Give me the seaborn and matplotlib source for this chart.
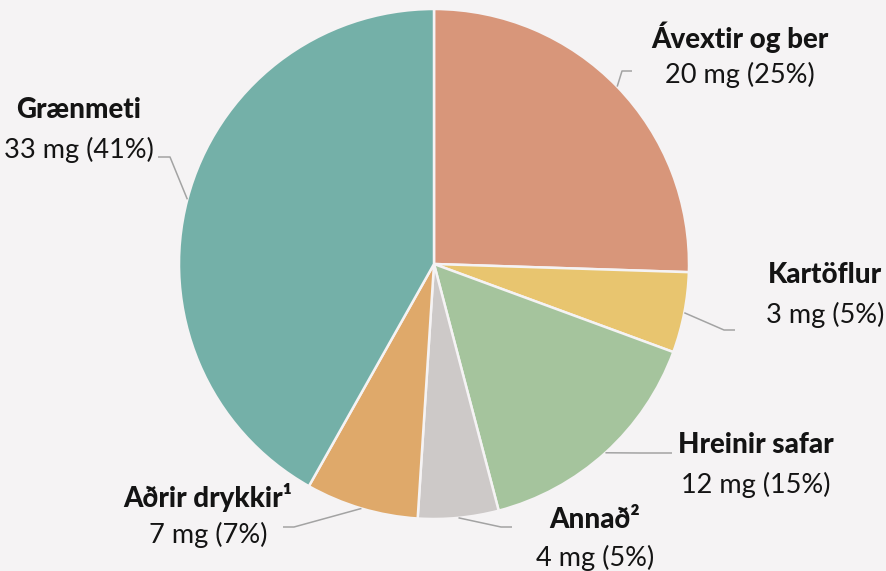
import numpy as np
import matplotlib
matplotlib.use("Agg")
import matplotlib.pyplot as plt
import seaborn as sns

# Daily intake by source
categories = ["Ávextir og ber", "Kartöflur", "Hreinir safar", "Annað²", "Aðrir drykkir¹", "Grænmeti"]
mg_values = [20, 3, 12, 4, 7, 33]
pct_values = [25, 5, 15, 5, 7, 41]
colors = ["#D8967A", "#E8C56F", "#A5C49D", "#CDC9C8", "#DFA96A", "#74B0A8"]

BG = "#F5F3F4"
sns.set_theme(style="white", rc={"figure.facecolor": BG, "axes.facecolor": BG})
plt.rcParams["font.family"] = ["Lato", "DejaVu Sans"]

W, H = 887, 571
fig = plt.figure(figsize=(W / 100, H / 100), dpi=100)
ax = fig.add_axes([0, 0, 1, 1])

# pie geometry in pixel units (y measured upward)
cx, cy, R = 434, H - 264, 255
palette = sns.color_palette(colors)
wedges, _ = ax.pie(pct_values, colors=palette, startangle=90, counterclock=False,
                   center=(cx, cy), radius=R,
                   wedgeprops=dict(edgecolor=BG, linewidth=1.8))

ax.set_xlim(0, W)
ax.set_ylim(0, H)
ax.set_aspect("auto")
ax.axis("off")

# label layout: (text x, title y, value y, elbow point, line end) in pixels from top
layout = [
    (740, 37, 75, (622, 71), (632, 71)),
    (825, 275, 315, (724, 330), (735, 330)),
    (756, 445, 485, (640, 453), (672, 453)),
    (595, 520, 558, (501, 527), (512, 527)),
    (208, 497, 535, (294, 527), (283, 527)),
    (79, 110, 150, (170, 157), (158, 157)),
]

fracs = np.array(pct_values, dtype=float) / sum(pct_values)
start = 0.0
for name, mg, pct, frac, (tx, ty1, ty2, elbow, end) in zip(
        categories, mg_values, pct_values, fracs, layout):
    mid = np.deg2rad((start + frac / 2) * 360)
    start += frac
    px = cx + R * np.sin(mid)
    py = cy + R * np.cos(mid)
    ax.plot([px, elbow[0], end[0]], [py, H - elbow[1], H - end[1]],
            color="#A3A3A3", lw=1.1, solid_capstyle="butt", zorder=1)
    ax.text(tx, H - ty1, name, ha="center", va="center", fontsize=20,
            fontweight="black", color="#141414")
    ax.text(tx, H - ty2, f"{mg} mg ({pct}%)", ha="center", va="center",
            fontsize=19.5, color="#141414")

fig.savefig("out.png", dpi=100, facecolor=BG)
